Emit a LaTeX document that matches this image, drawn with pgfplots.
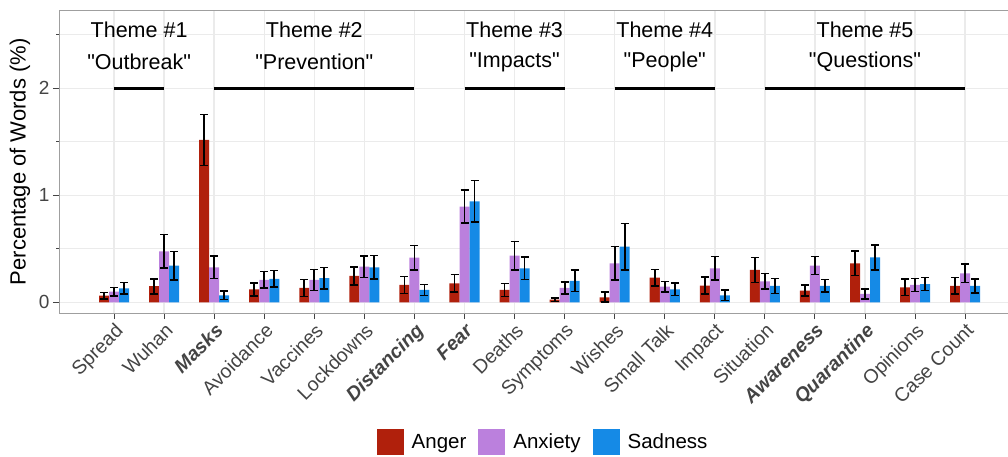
\documentclass[border=0pt]{standalone}
\usepackage{pgfplots}
\usepackage{pgfplotstable}
\pgfplotsset{compat=1.18}
\usepackage{fontspec}
\setmainfont{Liberation Sans}
\definecolor{cAnger}{HTML}{B0200C}
\definecolor{cAnx}{HTML}{BB80DD}
\definecolor{cSad}{HTML}{158AE6}
\definecolor{gridc}{HTML}{EBEBEB}
\definecolor{txt}{HTML}{444444}
\pgfplotstableread{
x a ae b be c ce
0 0.062 0.031 0.100 0.039 0.130 0.055
1 0.150 0.070 0.477 0.156 0.343 0.132
2 1.517 0.238 0.327 0.104 0.065 0.039
3 0.120 0.062 0.210 0.078 0.220 0.078
4 0.134 0.078 0.210 0.098 0.227 0.100
5 0.246 0.083 0.333 0.100 0.327 0.110
6 0.162 0.078 0.417 0.114 0.115 0.051
7 0.178 0.083 0.894 0.153 0.944 0.195
8 0.115 0.062 0.436 0.134 0.318 0.106
9 0.025 0.016 0.134 0.055 0.200 0.100
10 0.047 0.047 0.364 0.156 0.520 0.218
11 0.230 0.078 0.146 0.047 0.120 0.058
12 0.156 0.078 0.318 0.109 0.065 0.050
13 0.302 0.117 0.196 0.073 0.153 0.070
14 0.110 0.051 0.343 0.084 0.153 0.059
15 0.364 0.114 0.078 0.047 0.420 0.118
16 0.140 0.078 0.162 0.062 0.171 0.062
17 0.153 0.078 0.270 0.086 0.153 0.067
}\data
\pgfplotstableread{
x y
0 2
1 2
}\thA
\pgfplotstableread{
x y
2 2
6 2
}\thB
\pgfplotstableread{
x y
7 2
9 2
}\thC
\pgfplotstableread{
x y
10 2
12 2
}\thD
\pgfplotstableread{
x y
13 2
17 2
}\thE
\newcommand{\thf}{\fontsize{21.5}{25}\selectfont}
\begin{document}
\begin{tikzpicture}
\useasboundingbox (-59pt,-144pt) rectangle (949pt,313pt);
\begin{axis}[
  at={(0pt,0pt)}, anchor=south west,
  scale only axis, width=961.2pt, height=302.3pt,
  xmin=-1.1, xmax=18.1, ymin=-0.1, ymax=2.725,
  xtick={0,...,17},
  xticklabels={Spread,Wuhan,\textbf{\textit{Masks}},Avoidance,Vaccines,Lockdowns,\textbf{\textit{Distancing}},\textbf{\textit{Fear}},Deaths,Symptoms,Wishes,Small Talk,Impact,Situation,\textbf{\textit{Awareness}},\textbf{\textit{Quarantine}},Opinions,Case Count},
  ytick={0,1,2}, minor ytick={0.5,1.5,2.5},
  grid=both,
  major grid style={gridc, line width=1.4pt},
  minor grid style={gridc, line width=0.8pt},
  axis line style={gray!75, line width=0.9pt},
  tick align=outside, tick pos=left,
  major tick length=6pt,
  tick style={txt, line width=1pt},
  /pgf/number format/assume math mode=true,
  xticklabel style={rotate=45, anchor=north east, font=\fontsize{19.5}{22}\selectfont, text=txt, inner sep=2pt},
  yticklabel style={font=\fontsize{19}{22}\selectfont, text=txt},
  ylabel={Percentage of Words (\%)},
  ylabel style={at={(axis description cs:-0.0406,0.5)}, anchor=center, font=\fontsize{22}{26}\selectfont},
  legend style={at={(axis description cs:0.5036,-0.4267)}, anchor=center, draw=none, fill=none,
     legend columns=3, font=\fontsize{20.5}{24}\selectfont,
     /tikz/every even column/.append style={column sep=10pt},
     /tikz/every odd column/.append style={column sep=6pt}},
  legend cell align=left,
  legend image code/.code={\fill[#1] (0pt,-12.5pt) rectangle (27pt,13pt);},
  error bars/error bar style={draw=black, line width=1.8pt},
  error bars/error mark options={draw=black, line width=1.6pt, mark size=4pt, rotate=90},
  clip=false,
]
\addplot[ybar, bar width=0.2, bar shift=0, fill=cAnger, draw=none] table[x expr=\thisrow{x}-0.2, y=a]{\data};
\addlegendentry{Anger}
\addplot[ybar, bar width=0.2, bar shift=0, fill=cAnx, draw=none] table[x=x, y=b]{\data};
\addlegendentry{Anxiety}
\addplot[ybar, bar width=0.2, bar shift=0, fill=cSad, draw=none] table[x expr=\thisrow{x}+0.2, y=c]{\data};
\addlegendentry{Sadness}
\addplot[draw=none, mark=none, forget plot, error bars/.cd, y dir=both, y explicit] table[x expr=\thisrow{x}-0.2, y=a, y error=ae]{\data};
\addplot[draw=none, mark=none, forget plot, error bars/.cd, y dir=both, y explicit] table[x=x, y=b, y error=be]{\data};
\addplot[draw=none, mark=none, forget plot, error bars/.cd, y dir=both, y explicit] table[x expr=\thisrow{x}+0.2, y=c, y error=ce]{\data};
\addplot[black, line width=3pt, forget plot] table{\thA};
\addplot[black, line width=3pt, forget plot] table{\thB};
\addplot[black, line width=3pt, forget plot] table{\thC};
\addplot[black, line width=3pt, forget plot] table{\thD};
\addplot[black, line width=3pt, forget plot] table{\thE};
\node[font=\thf] at (axis cs:0.5,2.545) {Theme \#1};
\node[font=\thf] at (axis cs:0.5,2.245) {\textquotedbl Outbreak\textquotedbl};
\node[font=\thf] at (axis cs:4,2.545) {Theme \#2};
\node[font=\thf] at (axis cs:4,2.245) {\textquotedbl Prevention\textquotedbl};
\node[font=\thf] at (axis cs:8,2.545) {Theme \#3};
\node[font=\thf] at (axis cs:8,2.245) {\textquotedbl Impacts\textquotedbl};
\node[font=\thf] at (axis cs:11,2.545) {Theme \#4};
\node[font=\thf] at (axis cs:11,2.245) {\textquotedbl People\textquotedbl};
\node[font=\thf] at (axis cs:15,2.545) {Theme \#5};
\node[font=\thf] at (axis cs:15,2.245) {\textquotedbl Questions\textquotedbl};
\end{axis}
\end{tikzpicture}
\end{document}
